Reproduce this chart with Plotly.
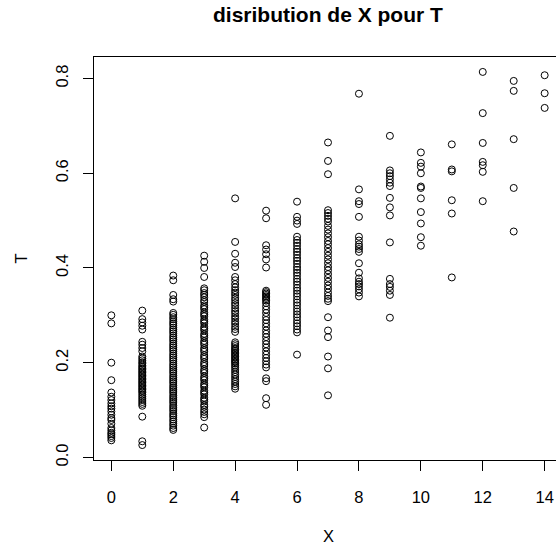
import plotly.graph_objects as go

# T values read for each X value (0..14)
t0 = [0.300, 0.283, 0.200, 0.163, 0.137, 0.128, 0.121, 0.114, 0.108, 0.103, 0.097,
      0.090, 0.083, 0.079, 0.071, 0.062, 0.057, 0.052, 0.049, 0.045, 0.041, 0.036]
t1 = [0.310, 0.292, 0.285, 0.278, 0.270, 0.244, 0.238, 0.231, 0.224, 0.213, 0.209,
      0.205, 0.201, 0.198, 0.194, 0.191, 0.188, 0.185, 0.182, 0.179, 0.176, 0.173,
      0.170, 0.167, 0.164, 0.161, 0.158, 0.155, 0.152, 0.149, 0.146, 0.143, 0.140,
      0.137, 0.133, 0.129, 0.125, 0.121, 0.117, 0.113, 0.109, 0.086, 0.034, 0.026]
t2 = [0.384, 0.374, 0.343, 0.334, 0.329, 0.305, 0.301, 0.296, 0.292, 0.287, 0.283,
      0.279, 0.274, 0.270, 0.266, 0.262, 0.257, 0.253, 0.249, 0.245, 0.240, 0.236,
      0.232, 0.228, 0.224, 0.219, 0.215, 0.211, 0.207, 0.203, 0.198, 0.194, 0.190,
      0.186, 0.182, 0.178, 0.173, 0.169, 0.165, 0.161, 0.157, 0.152, 0.148, 0.144,
      0.140, 0.136, 0.131, 0.127, 0.123, 0.119, 0.115, 0.110, 0.106, 0.102, 0.098,
      0.093, 0.089, 0.085, 0.080, 0.076, 0.071, 0.067, 0.062, 0.058]
t3 = [0.426, 0.413, 0.400, 0.381, 0.357, 0.353, 0.347, 0.343, 0.338, 0.332, 0.328,
      0.321, 0.317, 0.313, 0.306, 0.302, 0.298, 0.291, 0.287, 0.283, 0.276, 0.272,
      0.268, 0.261, 0.257, 0.253, 0.246, 0.242, 0.238, 0.231, 0.227, 0.223, 0.216,
      0.212, 0.208, 0.201, 0.197, 0.193, 0.186, 0.182, 0.178, 0.171, 0.167, 0.163,
      0.156, 0.152, 0.148, 0.141, 0.137, 0.133, 0.126, 0.122, 0.118, 0.111, 0.107,
      0.101, 0.096, 0.091, 0.085, 0.063]
t4 = [0.547, 0.455, 0.430, 0.411, 0.402, 0.381, 0.374, 0.366, 0.359, 0.353, 0.348,
      0.343, 0.337, 0.332, 0.326, 0.321, 0.315, 0.309, 0.304, 0.298, 0.293, 0.287,
      0.282, 0.276, 0.271, 0.265, 0.243, 0.239, 0.235, 0.231, 0.228, 0.225, 0.222,
      0.219, 0.216, 0.213, 0.210, 0.207, 0.204, 0.201, 0.198, 0.194, 0.190, 0.185,
      0.180, 0.175, 0.170, 0.165, 0.160, 0.155, 0.150, 0.145]
t5 = [0.521, 0.505, 0.448, 0.439, 0.429, 0.418, 0.401, 0.352, 0.349, 0.346, 0.343,
      0.340, 0.337, 0.334, 0.331, 0.326, 0.319, 0.312, 0.305, 0.297, 0.290, 0.283,
      0.276, 0.268, 0.261, 0.254, 0.246, 0.239, 0.232, 0.224, 0.217, 0.210, 0.203,
      0.196, 0.190, 0.167, 0.161, 0.125, 0.111]
t6 = [0.540, 0.508, 0.500, 0.493, 0.466, 0.459, 0.453, 0.447, 0.440, 0.434, 0.428,
      0.421, 0.415, 0.409, 0.402, 0.396, 0.390, 0.384, 0.377, 0.371, 0.365, 0.358,
      0.352, 0.346, 0.340, 0.333, 0.327, 0.321, 0.314, 0.308, 0.302, 0.296, 0.289,
      0.283, 0.277, 0.270, 0.264, 0.217]
t7 = [0.665, 0.626, 0.598, 0.522, 0.516, 0.510, 0.504, 0.498, 0.489, 0.481, 0.473,
      0.465, 0.457, 0.450, 0.442, 0.434, 0.426, 0.418, 0.410, 0.402, 0.395, 0.387,
      0.379, 0.371, 0.363, 0.356, 0.348, 0.341, 0.335, 0.330, 0.296, 0.268, 0.254,
      0.213, 0.188, 0.131]
t8 = [0.768, 0.566, 0.541, 0.535, 0.508, 0.466, 0.458, 0.450, 0.445, 0.440, 0.434,
      0.410, 0.390, 0.378, 0.371, 0.366, 0.361, 0.355, 0.348, 0.340]
t9 = [0.679, 0.606, 0.600, 0.594, 0.587, 0.580, 0.573, 0.548, 0.528, 0.511, 0.454,
      0.377, 0.366, 0.360, 0.352, 0.343, 0.295]
t10 = [0.644, 0.622, 0.614, 0.600, 0.572, 0.569, 0.547, 0.518, 0.494, 0.465, 0.447]
t11 = [0.661, 0.608, 0.604, 0.543, 0.515, 0.380]
t12 = [0.814, 0.727, 0.664, 0.624, 0.617, 0.603, 0.541]
t13 = [0.795, 0.774, 0.672, 0.569, 0.477]
t14 = [0.807, 0.769, 0.738]

columns = [t0, t1, t2, t3, t4, t5, t6, t7, t8, t9, t10, t11, t12, t13, t14]
x_ticks = [0, 2, 4, 6, 8, 10, 12, 14]
y_ticks = [0.0, 0.2, 0.4, 0.6, 0.8]
y_tick_labels = ["0.0", "0.2", "0.4", "0.6", "0.8"]

xs, ys = [], []
for xv, col in enumerate(columns):
    for v in col:
        xs.append(xv)
        ys.append(v)

FONT = "Liberation Sans, Arial, sans-serif"
W, H = 556, 548
L, T_, B = 94, 57, 88
plot_w = W - L
# R-style ranges: 4% padding on both sides
x_min, x_max = min(xs), max(xs)
pad_x = 0.04 * (x_max - x_min)
x_lo = x_min - pad_x
x_hi_full = x_max + pad_x
box_w = 468.0  # full R plot box width (extends beyond the page)
x_hi = x_lo + (x_hi_full - x_lo) * plot_w / box_w
y_min, y_max = min(ys), max(ys)
pad_y = 0.04 * (y_max - y_min)

fig = go.Figure(go.Scatter(
    x=xs, y=ys, mode="markers",
    marker=dict(symbol="circle-open", size=7, color="black",
                line=dict(color="black", width=1)),
    hoverinfo="skip", showlegend=False, cliponaxis=False,
))

fig.update_layout(
    width=W, height=H,
    margin=dict(l=L, r=0, t=T_, b=B, pad=0, autoexpand=False),
    paper_bgcolor="white", plot_bgcolor="white",
    font=dict(family=FONT, size=16.5, color="black"),
    xaxis=dict(range=[x_lo, x_hi], tickvals=x_ticks, showgrid=False, zeroline=False,
               automargin=False,
               showline=True, linecolor="black", linewidth=1, mirror=True,
               ticks="outside", ticklen=10, tickcolor="black", tickwidth=1,
               ticklabelstandoff=12, tickfont=dict(size=16.5)),
    yaxis=dict(range=[y_min - pad_y, y_max + pad_y], tickvals=y_ticks,
               automargin=False,
               ticktext=y_tick_labels, showgrid=False, zeroline=False,
               showline=True, linecolor="black", linewidth=1,
               ticks="outside", ticklen=10, tickcolor="black", tickwidth=1,
               tickangle=-90, ticklabelstandoff=8, tickfont=dict(size=16.5)),
    annotations=[
        dict(text="<b>disribution de X pour T</b>", xref="paper", yref="paper",
             x=(328 - L) / plot_w, y=1, xanchor="center", yanchor="middle",
             yshift=43, showarrow=False, font=dict(size=21, family=FONT)),
        dict(text="X", xref="paper", yref="paper", x=(328 - L) / plot_w, y=0,
             xanchor="center", yanchor="middle", yshift=-76, showarrow=False,
             font=dict(size=16.5, family=FONT)),
        dict(text="T", xref="paper", yref="paper", x=0, y=0.5,
             xanchor="center", yanchor="middle", xshift=-(L - 20), textangle=-90,
             showarrow=False, font=dict(size=16.5, family=FONT)),
    ],
)

fig.write_html(
    "out.html",
    config={"displayModeBar": False},
    post_script="document.body.style.margin='0';document.body.style.overflow='hidden';",
)
